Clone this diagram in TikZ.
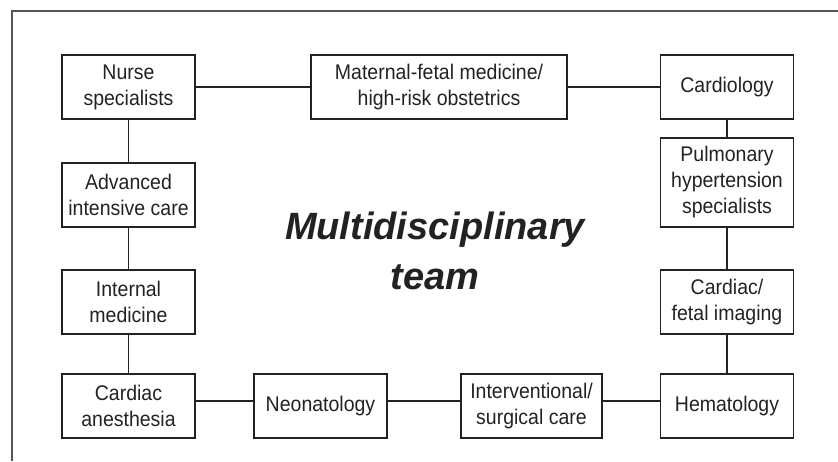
\documentclass[tikz,border=0pt]{standalone}
\usepackage{fontspec}
\setmainfont{Liberation Sans}
\newfontfamily\boxfont{Liberation Sans}[FakeStretch=0.92]
\usepackage{tikz}

\definecolor{inkgray}{HTML}{222222}
\definecolor{framegray}{HTML}{555555}

\begin{document}
\begin{tikzpicture}[x=0.5pt, y=0.5pt,
    unit/.style={draw=inkgray, line width=0.6pt, text=inkgray, align=center, inner sep=0pt,
        minimum width=66.5pt, minimum height=32pt, font=\boxfont\fontsize{10.6}{13}\selectfont},
    link/.style={draw=inkgray, line width=0.6pt}]
    \useasboundingbox (0,0) rectangle (838,461);

    % Frame
    \draw[framegray, line width=1pt] (12,0) -- (12,450) -- (838,450);

    % Top row
    \node[unit] (nurse) at (128.5,374) {Nurse\\specialists};
    \node[unit, minimum width=128pt, line width=0.9pt] (mfm) at (439,374) {Maternal-fetal medicine/\\high-risk obstetrics};
    \node[unit] (cardio) at (727,374) {Cardiology};

    % Left column
    \node[unit] (icu) at (128.5,266) {Advanced\\intensive care};
    \node[unit] (intmed) at (128.5,159) {Internal\\medicine};

    % Right column
    \node[unit, minimum height=44.5pt] (pulm) at (727,278.5) {Pulmonary\\hypertension\\specialists};
    \node[unit] (imaging) at (727,159) {Cardiac/\\fetal imaging};

    % Bottom row
    \node[unit] (anes) at (128.5,55) {Cardiac\\anesthesia};
    \node[unit] (neo) at (320.5,55) {Neonatology};
    \node[unit, minimum width=70.5pt] (interv) at (531.5,55) {Interventional/\\surgical care};
    \node[unit] (hema) at (727,55) {Hematology};

    % Team label
    \node[text=inkgray, align=center, font=\fontsize{19}{25}\selectfont\bfseries\itshape] (team) at (435,210) {Multidisciplinary\\team};

    % Links
    \foreach \a/\b in {nurse/mfm, mfm/cardio, cardio/pulm, pulm/imaging, imaging/hema, nurse/icu, icu/intmed, intmed/anes} {
        \draw[link] (\a) -- (\b);
    }
    \foreach \a/\b in {anes/neo, neo/interv, interv/hema} {
        \draw[link] ([yshift=2.5pt]\a.east) -- ([yshift=2.5pt]\b.west);
    }
\end{tikzpicture}
\end{document}
